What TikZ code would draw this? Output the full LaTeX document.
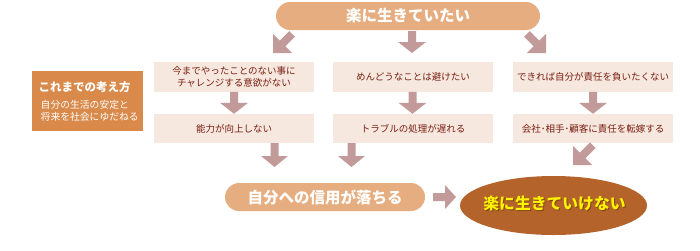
\documentclass[tikz,border=0pt]{standalone}
\usepackage{fontspec}
\setmainfont{Noto Sans CJK JP}
\usetikzlibrary{shapes.geometric,calc}
\definecolor{pillc}{HTML}{E6AE80}
\definecolor{boxc}{HTML}{F6E8DE}
\definecolor{txtc}{HTML}{7A1E12}
\definecolor{arrc}{HTML}{C29A99}
\definecolor{leftc}{HTML}{D98A4A}
\definecolor{ellc}{HTML}{B4632A}
\definecolor{yelc}{HTML}{FFF200}
\definecolor{shc}{HTML}{5A2A08}
\tikzset{
  pill/.style={fill=pillc, rounded corners=14pt, minimum width=#1, minimum height=28pt,
    inner sep=0pt, text=white, font=\fontsize{15.5}{18}\selectfont\bfseries},
  ibox/.style={fill=boxc, minimum width=160pt, inner sep=0pt, text=txtc,
    font=\fontsize{9.5}{12}\selectfont, align=center},
  lefttxt/.style={anchor=west, inner sep=0pt, text=white},
}
% tip coordinate, angle, total length, head length, head half width
\newcommand\blkarrow[5]{%
  \fill[arrc, shift={#1}, rotate=#2] (0,0) -- (-#5,-#4) -- (-4,-#4) -- (-4,-#3)
    -- (4,-#3) -- (4,-#4) -- (#5,-#4) -- cycle;}
\begin{document}
\begin{tikzpicture}[x=1pt,y=-1pt]
\useasboundingbox (0,0) rectangle (700,250);
% top
\node[pill=264pt] (top) at (408,16) {楽に生きていたい};
% row 1
\node[ibox, minimum height=30pt] (a1) at (234,77) {今までやったことのない事に\\チャレンジする意欲がない};
\node[ibox, minimum height=30pt] (b1) at (413,77) {めんどうなことは避けたい};
\node[ibox, minimum height=30pt] (c1) at (593,77) {できれば自分が責任を負いたくない};
% row 2
\node[ibox, minimum height=29pt] (a2) at (234,128.5) {能力が向上しない};
\node[ibox, minimum height=29pt] (b2) at (413,128.5) {トラブルの処理が遅れる};
\node[ibox, minimum height=29pt] (c2) at (593,128.5) {会社･相手･顧客に責任を転嫁する};
% left box
\node[fill=leftc, minimum width=111pt, minimum height=60pt, inner sep=0pt] (lb) at (87.5,101) {};
\node[lefttxt, font=\fontsize{11.5}{14}\selectfont\bfseries] (lt) at (38.5,87) {これまでの考え方};
\node[lefttxt, font=\fontsize{9.8}{12}\selectfont] (l2) at (40.5,105) {自分の生活の安定と};
\node[lefttxt, font=\fontsize{9.8}{12}\selectfont] (l3) at (40.5,117) {将来を社会にゆだねる};
% bottom
\node[pill=200pt] (mid) at (325,197) {自分への信用が落ちる};
\node[ellipse, fill=ellc, minimum width=187pt, minimum height=59pt, inner sep=0pt] (end) at (553.5,205.5) {};
\node[text=shc, opacity=0.55, font=\fontsize{15.8}{18}\selectfont\bfseries] (endsh) at (555.5,204.5) {楽に生きていけない};
\node[text=yelc, font=\fontsize{15.8}{18}\selectfont\bfseries] (endt) at (554.5,203.5) {楽に生きていけない};
% arrows
\coordinate (t1) at (273,53);
\coordinate (t2) at (412,53);
\coordinate (t3) at (546,53);
\blkarrow{(t1)}{-45}{27}{13.5}{13.5}
\blkarrow{(t2)}{0}{22}{11}{14}
\blkarrow{(t3)}{45}{27}{13.5}{13.5}
\blkarrow{(a2.north)}{0}{22}{11}{14}
\blkarrow{($(b2.north)+(-0.5,0)$)}{0}{22}{11}{14}
\blkarrow{(c2.north)}{0}{22}{11}{14}
\coordinate (u1) at (274.5,167);
\coordinate (u2) at (351.5,167);
\coordinate (u3) at (573,165);
\blkarrow{(u1)}{0}{24}{11}{13.5}
\blkarrow{(u2)}{0}{24}{11}{13.5}
\blkarrow{(u3)}{-45}{28}{13.5}{13.5}
\coordinate (h1) at (456,197);
\blkarrow{(h1)}{90}{23}{11}{12}
\end{tikzpicture}
\end{document}
